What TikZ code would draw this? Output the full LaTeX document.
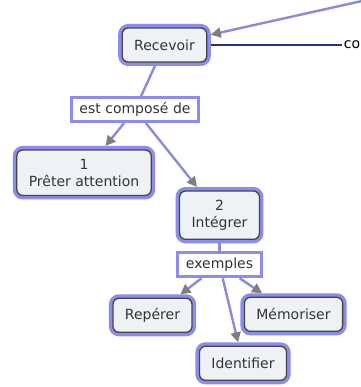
\documentclass[tikz,border=0pt]{standalone}
\usepackage{fontspec}
\setmainfont{DejaVu Sans}
\usepackage{xcolor}
\definecolor{cmhalo}{HTML}{8C8CEE}
\definecolor{cmline}{HTML}{8A8AD6}
\definecolor{cmfill}{HTML}{EEF2F5}
\definecolor{cmborder}{HTML}{454545}
\definecolor{cmtip}{HTML}{7F7F7F}
\definecolor{cmnavy}{HTML}{2A2F80}
\usetikzlibrary{arrows.meta,positioning}

\begin{document}
\begin{tikzpicture}[
font=\fontsize{14}{17}\selectfont,
concept/.style={draw=cmborder,line width=1.3pt,rounded corners=6pt,fill=cmfill,
preaction={draw=cmhalo,line width=8pt},align=center,text=black!80,
inner xsep=12pt,inner ysep=9pt,minimum height=34pt,outer sep=4pt},
link/.style={draw=cmhalo,line width=3pt,fill=white,text=black!80,
inner xsep=8pt,inner ysep=4pt,minimum height=24pt},
conn/.style={draw=cmline,line width=2.4pt},
arr/.style={conn,-{Triangle[length=10pt,width=10pt,color=cmtip]}}
]
\useasboundingbox (0pt,0pt) rectangle (360pt,-387pt);
\node[concept] (rec) at (164.5pt,-45pt) {Recevoir};
\node[right=131pt of rec,inner sep=2pt] (co) {co};
\node[link,below=30pt of rec,xshift=-29.5pt] (estc) {est composé de};
\node[concept,below=23pt of estc,xshift=-51pt] (pret) {1\\Prêter attention};
\node[concept,below=64pt of estc,xshift=84.5pt] (integ) {2\\Intégrer};
\node[link,below=8pt of integ] (exem) {exemples};
\node[concept,below=16pt of exem,xshift=-67pt] (rep) {Repérer};
\node[concept,below=15pt of exem,xshift=74pt] (mem) {Mémoriser};
\node[concept,below=64pt of exem,xshift=23.5pt] (ident) {Identifier};
\coordinate (src) at (362pt,-1pt);

\draw[arr] (src) -- (rec);
\draw[cmnavy,line width=1.4pt] (rec) -- (co);
\draw[conn] (rec) -- (estc);
\draw[arr] (estc) -- (pret);
\draw[arr] (estc) -- (integ);
\draw[conn] (integ) -- (exem);
\draw[arr] (exem) -- (rep);
\draw[arr] (exem) -- (ident);
\draw[arr] (exem) -- (mem);
\end{tikzpicture}
\end{document}
